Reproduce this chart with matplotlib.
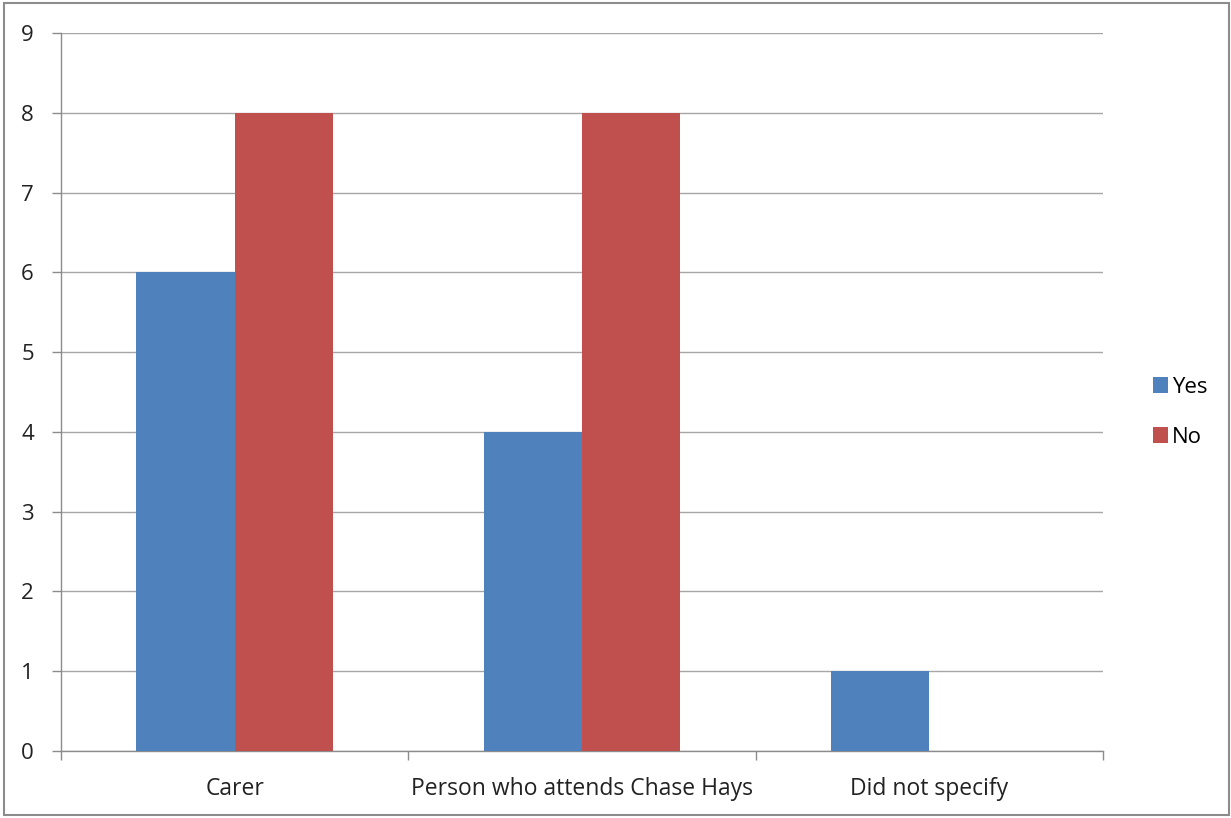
import matplotlib
matplotlib.use("Agg")
import matplotlib.pyplot as plt
from matplotlib.patches import Rectangle
import numpy as np

categories = ["Carer", "Person who attends Chase Hays", "Did not specify"]
yes_values = [6, 4, 1]
no_values = [8, 8, 0]
series_names = ["Yes", "No"]
y_ticks = list(range(0, 10))

plt.rcParams['font.family'] = ['Open Sans', 'DejaVu Sans']

fig = plt.figure(figsize=(12.31, 8.18), dpi=100)
ax = fig.add_axes([61 / 1231, 1 - 751 / 818, (1103 - 61) / 1231, (751 - 33) / 818])

x = np.arange(len(categories))
w = 0.283
ax.bar(x - w / 2, yes_values, width=w, color="#4F81BD", label=series_names[0], zorder=3)
ax.bar(x + w / 2, no_values, width=w, color="#C0504D", label=series_names[1], zorder=3)

ax.set_xlim(-0.5, len(categories) - 0.5)
ax.set_ylim(0, 9)
ax.set_yticks(y_ticks)
ax.set_yticklabels([str(t) for t in y_ticks], fontsize=16, color="#222222")
ax.set_xticks(x)
ax.set_xticklabels(categories, fontsize=16.5, color="#222222")
ax.set_xticks(np.arange(-0.5, len(categories)), minor=True)

ax.tick_params(axis="x", which="major", length=0, pad=19)
ax.tick_params(axis="x", which="minor", length=6.5, width=1, color="#8c8c8c", direction="out")
ax.tick_params(axis="y", which="major", length=6.5, width=1, color="#8c8c8c", pad=13)

ax.yaxis.grid(True, color="#a6a6a6", linewidth=1, zorder=0)
ax.set_axisbelow(True)
for s in ("top", "right"):
    ax.spines[s].set_visible(False)
for s in ("left", "bottom"):
    ax.spines[s].set_color("#8c8c8c")
    ax.spines[s].set_linewidth(1)

leg = fig.legend(loc="center left", bbox_to_anchor=(1144 / 1231, 1 - 412.5 / 818),
                 frameon=False, fontsize=16, handlelength=0.7, handleheight=0.7,
                 handletextpad=0.15, labelspacing=1.3, borderaxespad=0)

# outer chart border
fig.patches.append(Rectangle((4 / 1231, 3 / 818), 1225 / 1231, 812 / 818,
                             transform=fig.transFigure, fill=False,
                             edgecolor="#8c8c8c", linewidth=1.5))

fig.savefig("out.png", dpi=100)
